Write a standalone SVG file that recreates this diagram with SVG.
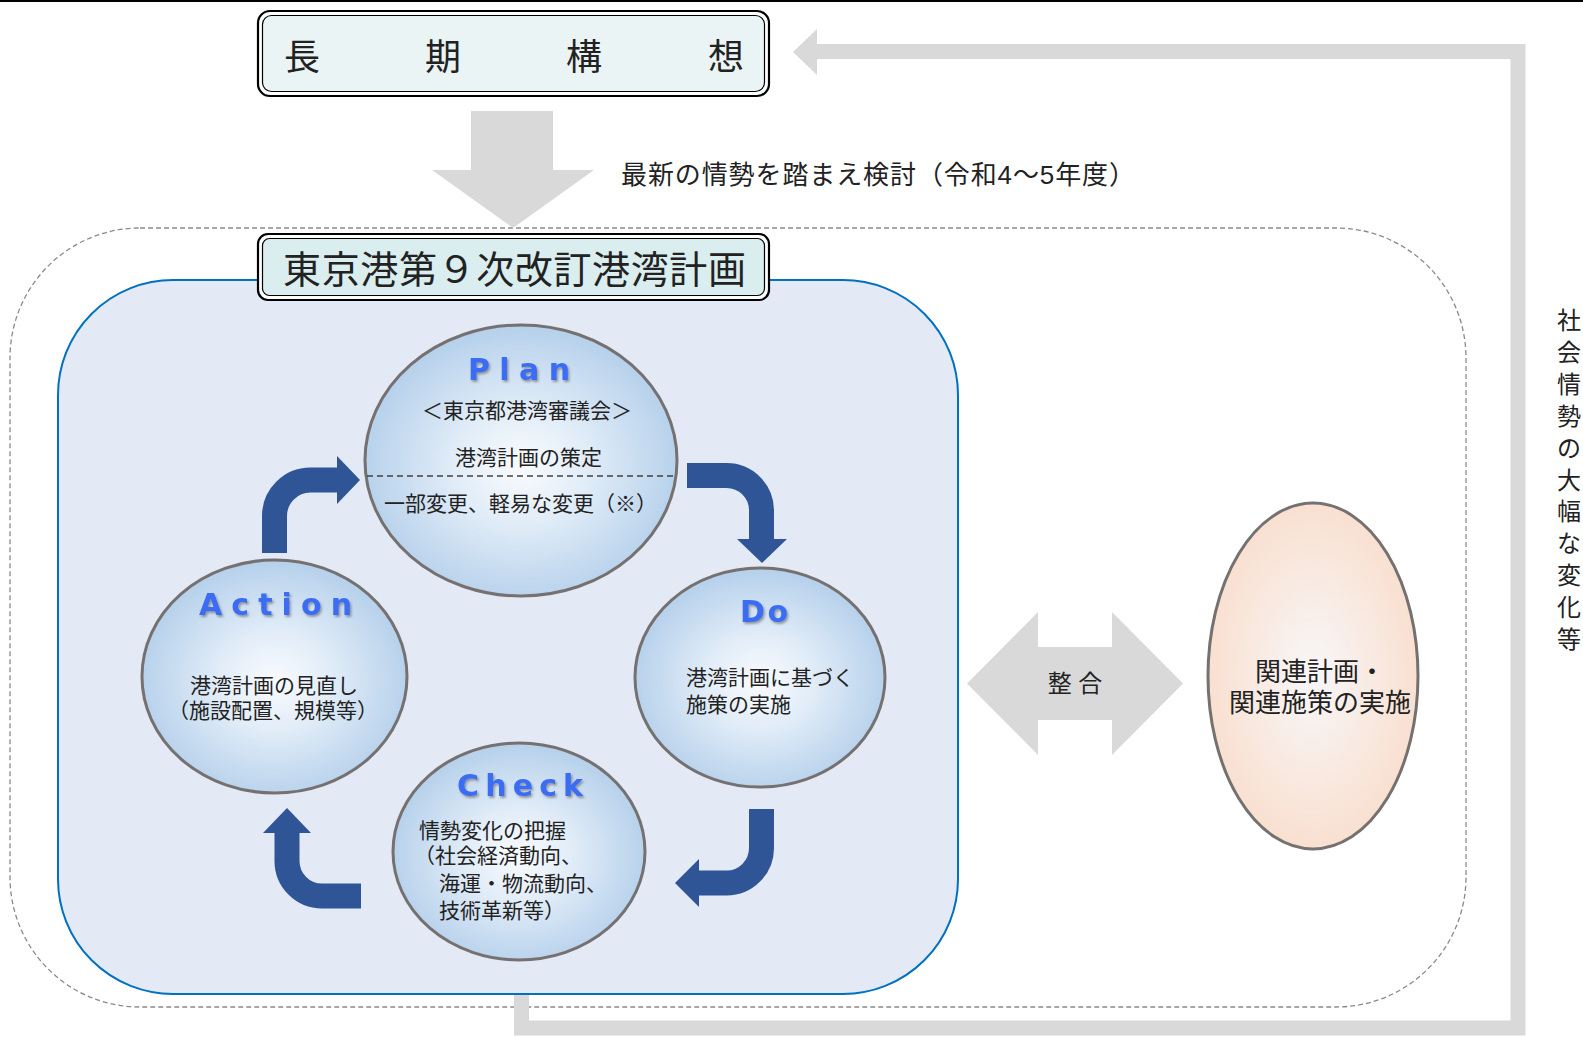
<svg xmlns="http://www.w3.org/2000/svg" width="1583" height="1037" viewBox="0 0 1583 1037">
<style>
.jp{font-family:"Liberation Sans","Noto Sans CJK JP",sans-serif;fill:#222222}
.body{font-size:21px}
.ttl{font-family:"DejaVu Sans","Liberation Sans",sans-serif;font-weight:bold;font-size:30px;fill:#3a6cf4;filter:url(#shadow)}
.ell{stroke:#767171;stroke-width:3}
.pdca{fill:none;stroke:#2f5597;stroke-width:25}
.pdcahead{fill:#2f5597}
.gray{fill:#d9d9d9}
.frameOut{fill:#ffffff;stroke:#000;stroke-width:2.2}
.frameIn{stroke:#000;stroke-width:1.2}
</style>
<defs>
<radialGradient id="blueGrad" cx="50%" cy="52%" r="52%">
<stop offset="0" stop-color="#f9fbfe"/>
<stop offset="0.4" stop-color="#e2edf8"/>
<stop offset="1" stop-color="#b5d0eb"/>
</radialGradient>
<radialGradient id="peachGrad" cx="50%" cy="50%" r="52%">
<stop offset="0" stop-color="#f8f7f8"/>
<stop offset="1" stop-color="#f9dfcf"/>
</radialGradient>
<filter id="shadow" x="-10%" y="-20%" width="130%" height="150%">
<feDropShadow dx="1.5" dy="2" stdDeviation="1.2" flood-color="#555" flood-opacity="0.55"/>
</filter>
</defs>
<rect x="0" y="0" width="1583" height="1037" fill="#ffffff"/>
<rect x="0" y="0" width="1583" height="2" fill="#000"/>

<g id="outer-frame">
<rect x="10" y="228" width="1456" height="779" rx="130" ry="130" fill="none" stroke="#8a8a8a" stroke-width="1.3" stroke-dasharray="5 3"/>
</g>

<g id="plan-area">
<rect x="58" y="280" width="900" height="714" rx="115" ry="115" fill="#e3e9f5" stroke="#0070c0" stroke-width="2"/>
</g>

<g id="long-term">
<rect class="frameOut" x="258" y="11" width="511" height="85" rx="12" ry="12"/>
<rect class="frameIn" x="262.5" y="15.5" width="502" height="76" rx="9" ry="9" fill="#eaf4f5"/>
<text class="jp" font-size="36" y="70"><tspan x="284">長</tspan><tspan x="425">期</tspan><tspan x="566">構</tspan><tspan x="708">想</tspan></text>
</g>

<g id="harbor-plan-title">
<rect class="frameOut" x="258" y="234" width="511" height="66" rx="10" ry="10"/>
<rect class="frameIn" x="262.5" y="238.5" width="502" height="57" rx="7" ry="7" fill="#daedef"/>
<text class="jp" font-size="38" x="283" y="283" textLength="463" lengthAdjust="spacing">東京港第９次改訂港湾計画</text>
</g>

<g id="plan">
<ellipse class="ell" cx="521" cy="460.5" rx="156" ry="135.5" fill="url(#blueGrad)"/>
<text class="ttl" x="468" y="380" textLength="102" lengthAdjust="spacing">Plan</text>
<text class="jp body" x="422" y="418">＜東京都港湾審議会＞</text>
<text class="jp body" x="455" y="465">港湾計画の策定</text>
<line x1="367" y1="476" x2="675" y2="476" stroke="#404040" stroke-width="1.5" stroke-dasharray="6 4"/>
<text class="jp body" x="384" y="511">一部変更、軽易な変更（※）</text>
</g>

<g id="do">
<ellipse class="ell" cx="760" cy="677.5" rx="125" ry="109.5" fill="url(#blueGrad)"/>
<text class="ttl" x="740" y="622" textLength="48" lengthAdjust="spacing">Do</text>
<text class="jp body" x="686" y="685">港湾計画に基づく</text>
<text class="jp body" x="686" y="712">施策の実施</text>
</g>

<g id="check">
<ellipse class="ell" cx="519" cy="851.5" rx="126" ry="108.5" fill="url(#blueGrad)"/>
<text class="ttl" x="457" y="796" textLength="126" lengthAdjust="spacing">Check</text>
<text class="jp body" x="419" y="838">情勢変化の把握</text>
<text class="jp body" x="414" y="863">（社会経済動向、</text>
<text class="jp body" x="439" y="891">海運・物流動向、</text>
<text class="jp body" x="439" y="918">技術革新等）</text>
</g>

<g id="action">
<ellipse class="ell" cx="274.5" cy="676.5" rx="132.5" ry="116.5" fill="url(#blueGrad)"/>
<text class="ttl" x="199" y="615" textLength="153" lengthAdjust="spacing">Action</text>
<text class="jp body" x="190" y="693">港湾計画の見直し</text>
<text class="jp body" x="168" y="718">（施設配置、規模等）</text>
</g>

<g id="related">
<ellipse class="ell" cx="1313" cy="676" rx="105" ry="173" fill="url(#peachGrad)"/>
<text class="jp" font-size="26" x="1320" y="681" text-anchor="middle">関連計画・</text>
<text class="jp" font-size="26" x="1320" y="712" text-anchor="middle">関連施策の実施</text>
</g>

<g id="side-note">
<text class="jp" font-size="24" text-anchor="middle">
<tspan x="1569" y="329">社</tspan><tspan x="1569" y="361">会</tspan><tspan x="1569" y="393">情</tspan><tspan x="1569" y="425">勢</tspan><tspan x="1569" y="457">の</tspan><tspan x="1569" y="489">大</tspan><tspan x="1569" y="520">幅</tspan><tspan x="1569" y="552">な</tspan><tspan x="1569" y="584">変</tspan><tspan x="1569" y="616">化</tspan><tspan x="1569" y="648">等</tspan>
</text>
</g>

<g id="connectors">
<polyline points="521.5,995 521.5,1028 1518,1028 1518,51.5 812,51.5" fill="none" stroke="#d9d9d9" stroke-width="15"/>
<polygon class="gray" points="817,29 793,52 817,75"/>
<polygon class="gray" points="471,111 553,111 553,170 594,170 513,228 432,170 471,170"/>
<text class="jp" font-size="26" x="621" y="184" textLength="514" lengthAdjust="spacing">最新の情勢を踏まえ検討（令和4～5年度）</text>
<polygon class="gray" points="967,683.5 1038,612 1038,647 1112,647 1112,612 1183,683.5 1112,755 1112,720 1038,720 1038,755"/>
<text class="jp" font-size="24" x="1075" y="692" text-anchor="middle">整 合</text>
<path class="pdca" d="M274.5 553 V516 A36 36 0 0 1 310.5 480 H338"/>
<polygon class="pdcahead" points="337,456 360,480 337,504"/>
<path class="pdca" d="M687 475.5 H726.5 A35 35 0 0 1 761.5 510.5 V540"/>
<polygon class="pdcahead" points="737,539 787,539 762,563"/>
<path class="pdca" d="M761.5 809 V848 A35 35 0 0 1 726.5 883 H698"/>
<polygon class="pdcahead" points="699,859 699,907 675,883"/>
<path class="pdca" d="M361 896 H322 A35 35 0 0 1 287 861 V832"/>
<polygon class="pdcahead" points="263,833 311,833 287,808"/>
</g>
</svg>
